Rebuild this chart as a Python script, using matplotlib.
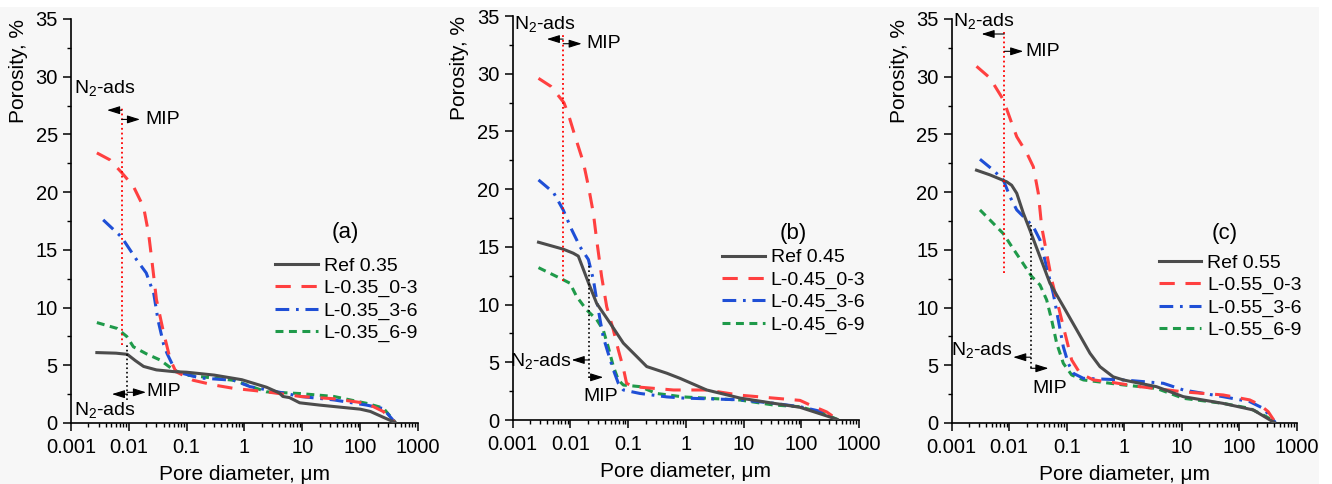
import matplotlib
matplotlib.use("Agg")
import matplotlib.pyplot as plt
from matplotlib.patches import Rectangle
from matplotlib.ticker import FixedLocator, MultipleLocator, LogLocator, NullFormatter

plt.rcParams['font.family'] = ['Liberation Sans', 'DejaVu Sans']
plt.rcParams['mathtext.default'] = 'regular'

# ---------------- data ----------------
x_ticks = [0.001, 0.01, 0.1, 1, 10, 100, 1000]
x_tick_labels = ["0.001", "0.01", "0.1", "1", "10", "100", "1000"]
y_ticks = [0, 5, 10, 15, 20, 25, 30, 35]

# Panel (a) w/c 0.35
a_ref_x = [0.0028, 0.006, 0.0094, 0.013, 0.018, 0.03, 0.06, 0.1, 0.3, 0.9, 2.4, 4.0, 4.6, 6.0, 9.0, 20, 100, 150, 250, 400]
a_ref_y = [6.1, 6.05, 5.95, 5.4, 4.9, 4.6, 4.45, 4.4, 4.15, 3.75, 3.1, 2.6, 2.3, 2.2, 1.75, 1.55, 1.2, 1.0, 0.5, 0.05]
a_03_x = [0.0028, 0.0047, 0.0075, 0.012, 0.018, 0.022, 0.025, 0.03, 0.04, 0.052, 0.065, 0.13, 0.29, 0.65, 2.4, 9.2, 35, 130, 250, 400]
a_03_y = [23.4, 22.8, 21.7, 20.5, 18.7, 16.4, 14.1, 10.7, 7.8, 5.5, 4.45, 3.7, 3.3, 3.0, 2.7, 2.3, 2.1, 1.7, 1.0, 0.05]
a_36_x = [0.0036, 0.0075, 0.0138, 0.02, 0.027, 0.032, 0.04, 0.046, 0.065, 0.17, 0.65, 1.25, 4.7, 9.2, 35, 130, 250, 400]
a_36_y = [17.6, 16.1, 14.1, 13.0, 11.2, 8.9, 6.8, 6.0, 4.45, 3.9, 3.7, 3.15, 2.6, 2.3, 2.0, 1.55, 1.25, 0.05]
a_69_x = [0.0028, 0.0062, 0.0092, 0.012, 0.02, 0.035, 0.059, 0.1, 0.65, 2.4, 9.2, 35, 130, 250, 400]
a_69_y = [8.7, 8.2, 7.5, 6.6, 6.0, 5.45, 4.6, 4.15, 3.7, 2.7, 2.55, 2.3, 1.7, 1.3, 0.1]

# Panel (b) w/c 0.45
b_ref_x = [0.0028, 0.0075, 0.0112, 0.0137, 0.0205, 0.0285, 0.0486, 0.0826, 0.141, 0.21, 0.47, 0.8, 2.3, 8.7, 33, 95, 240, 420]
b_ref_y = [15.4, 14.8, 14.45, 14.2, 11.9, 10.1, 8.4, 6.66, 5.5, 4.63, 4.05, 3.6, 2.6, 1.9, 1.45, 1.1, 0.45, 0.05]
b_03_x = [0.0028, 0.0046, 0.0077, 0.0092, 0.012, 0.0168, 0.0205, 0.025, 0.0285, 0.0348, 0.0426, 0.0555, 0.0676, 0.0826, 0.094, 0.123, 0.61, 2.3, 8.7, 33, 95, 142, 275, 420]
b_03_y = [29.6, 28.9, 27.5, 26.5, 24.6, 22.3, 20.25, 17.9, 15.6, 12.4, 9.8, 7.8, 6.07, 4.49, 3.18, 2.89, 2.6, 2.6, 2.15, 1.9, 1.7, 1.3, 0.7, 0.05]
b_36_x = [0.0028, 0.0051, 0.0075, 0.0105, 0.0147, 0.0205, 0.025, 0.0285, 0.0326, 0.037, 0.045, 0.0555, 0.0676, 0.0826, 0.16, 0.47, 0.9, 8.7, 33, 95, 240, 420]
b_36_y = [20.8, 19.7, 18.2, 16.5, 15.0, 13.9, 12.15, 10.4, 8.7, 7.2, 5.8, 4.34, 3.18, 2.6, 2.3, 2.0, 1.9, 1.75, 1.45, 1.15, 0.7, 0.05]
b_69_x = [0.0028, 0.0075, 0.0098, 0.0128, 0.019, 0.0285, 0.037, 0.045, 0.0555, 0.0676, 0.0826, 0.16, 0.31, 0.9, 8.7, 33, 95, 240, 420]
b_69_y = [13.2, 12.15, 11.85, 10.7, 9.55, 8.7, 7.8, 6.36, 4.63, 3.47, 3.03, 2.89, 2.3, 2.0, 1.73, 1.3, 1.15, 0.58, 0.05]

# Panel (c) w/c 0.55
c_ref_x = [0.0027, 0.0046, 0.009, 0.011, 0.0135, 0.0175, 0.0229, 0.0342, 0.051, 0.087, 0.149, 0.253, 0.377, 0.64, 0.96, 3.6, 10.6, 52, 174, 400]
c_ref_y = [21.9, 21.5, 20.9, 20.6, 19.9, 18.2, 16.7, 14.4, 12.1, 10.1, 8.06, 6.04, 4.88, 4.0, 3.73, 3.15, 2.28, 1.7, 1.13, 0.05]
c_03_x = [0.0027, 0.0046, 0.0079, 0.011, 0.0135, 0.0201, 0.0262, 0.032, 0.0366, 0.0447, 0.0547, 0.0713, 0.093, 0.1215, 0.17, 0.29, 0.49, 1.86, 10.6, 52, 151, 228, 316, 420]
c_03_y = [30.9, 29.9, 28.0, 26.0, 24.8, 23.4, 22.2, 19.9, 17.0, 14.7, 12.4, 10.1, 7.77, 5.46, 4.3, 3.73, 3.59, 3.15, 2.7, 2.43, 2.0, 1.56, 0.98, 0.05]
c_36_x = [0.0031, 0.0053, 0.0079, 0.0103, 0.0135, 0.0201, 0.0262, 0.0342, 0.0447, 0.0583, 0.0713, 0.087, 0.106, 0.13, 0.194, 0.96, 4.75, 10.6, 52, 151, 259, 420]
c_36_y = [22.85, 21.9, 21.05, 19.6, 18.46, 17.6, 17.0, 15.86, 13.5, 11.2, 8.9, 6.6, 5.17, 4.3, 3.87, 3.73, 3.44, 2.86, 2.28, 1.85, 1.27, 0.05]
c_69_x = [0.0031, 0.0046, 0.0079, 0.011, 0.0175, 0.0245, 0.0342, 0.0447, 0.0547, 0.0668, 0.087, 0.1215, 0.194, 0.96, 3.6, 10.6, 52, 151, 293, 420]
c_69_y = [18.46, 17.6, 16.4, 15.3, 13.8, 12.7, 11.96, 10.66, 8.9, 6.9, 5.17, 4.16, 3.73, 3.3, 3.0, 2.14, 1.7, 1.27, 0.55, 0.05]

series_labels = {
    'a': ["Ref 0.35", "L-0.35_0-3", "L-0.35_3-6", "L-0.35_6-9"],
    'b': ["Ref 0.45", "L-0.45_0-3", "L-0.45_3-6", "L-0.45_6-9"],
    'c': ["Ref 0.55", "L-0.55_0-3", "L-0.55_3-6", "L-0.55_6-9"],
}
panel_data = {
    'a': [(a_ref_x, a_ref_y), (a_03_x, a_03_y), (a_36_x, a_36_y), (a_69_x, a_69_y)],
    'b': [(b_ref_x, b_ref_y), (b_03_x, b_03_y), (b_36_x, b_36_y), (b_69_x, b_69_y)],
    'c': [(c_ref_x, c_ref_y), (c_03_x, c_03_y), (c_36_x, c_36_y), (c_69_x, c_69_y)],
}

# ---------------- styles ----------------
colors = ['#4c4c4c', '#ff4040', '#1f4fd6', '#1f9a4a']
styles = [dict(ls='-'), dict(dashes=(5.0, 3.5)), dict(dashes=(4.5, 2.2, 0.9, 2.2)), dict(dashes=(2.6, 1.8))]
LW = 2.2

W, H = 1332, 484
fig = plt.figure(figsize=(W / 100, H / 100), dpi=100, facecolor='white')
fig.patches.append(Rectangle((0, 0), 1319 / W, (H - 7) / H, transform=fig.transFigure,
                             facecolor='#f7f7f7', edgecolor='none', zorder=-10))

# axes boxes in pixels: left, top, right, bottom
boxes = {'a': (71, 19, 418, 423), 'b': (512.7, 16, 859, 420), 'c': (951.7, 19, 1297, 423)}

ann = {
    'a': dict(rx=0.0075, ry=(6.76, 27.4), rl=(27.1, 0.0042), rr=(26.3, 0.0156), rmip=(0.0195, 26.3),
              rn2=(0.00112, 29.0, 'left'),
              bx=0.0094, by=(2.0, 6.9), bl=(2.5, 0.0051), br=(2.66, 0.0198), bmip=(0.0203, 2.75),
              bn2=(0.00112, 1.1, 'left')),
    'b': dict(rx=0.0075, ry=(12.0, 33.5), rl=(33.0, 0.0039), rr=(32.6, 0.0157), rmip=(0.0186, 32.6),
              rn2=(0.00106, 34.3, 'left'),
              bx=0.0213, by=(3.6, 13.6), bl=(5.2, 0.0105), br=(3.7, 0.037), bmip=(0.0335, 2.0, 'center'),
              bn2=(0.0103, 5.1, 'right')),
    'c': dict(rx=0.0082, ry=(13.0, 33.9), rl=(33.7, 0.0033), rr=(32.2, 0.0175), rmip=(0.0193, 32.2),
              rn2=(0.00107, 34.8, 'left'),
              bx=0.0236, by=(4.74, 17.3), bl=(5.7, 0.0117), br=(4.74, 0.048), bmip=(0.051, 3.0, 'center'),
              bn2=(0.0115, 6.3, 'right')),
}
panel_letters = {'a': (55, 16.5), 'b': (72, 16.2), 'c': (56, 16.4)}
legend_anchor = {'a': (0.588, 0.410), 'b': (0.605, 0.424), 'c': (0.599, 0.418)}

FS_TICK = 14.5
FS_LAB = 15
FS_ANN = 14
FS_LEG = 14


def arrow(ax, x0, x1, y):
    ax.annotate('', xy=(x1, y), xytext=(x0, y),
                arrowprops=dict(arrowstyle='-|>,head_length=0.7,head_width=0.22', color='black',
                                lw=0.8, mutation_scale=11, shrinkA=0, shrinkB=0), zorder=6)


for key in ['a', 'b', 'c']:
    l, t, r, b = boxes[key]
    ax = fig.add_axes([l / W, (H - b) / H, (r - l) / W, (b - t) / H])
    ax.set_facecolor('none')
    ax.set_xscale('log')
    ax.set_xlim(0.001, 1000)
    ax.set_ylim(0, 35)
    for i, (xs, ys) in enumerate(panel_data[key]):
        ax.plot(xs, ys, color=colors[i], lw=LW, label=series_labels[key][i], **styles[i],
                zorder=3 + (3 - i) * 0.1)

    cfg = ann[key]
    ax.plot([cfg['rx'], cfg['rx']], cfg['ry'], color='red', ls=':', lw=1.3, zorder=5)
    arrow(ax, cfg['rx'], cfg['rl'][1], cfg['rl'][0])
    arrow(ax, cfg['rx'], cfg['rr'][1], cfg['rr'][0])
    ax.text(cfg['rmip'][0], cfg['rmip'][1], 'MIP', fontsize=FS_ANN, ha='left', va='center')
    ax.text(cfg['rn2'][0], cfg['rn2'][1], r'N$_2$-ads', fontsize=FS_ANN, ha=cfg['rn2'][2], va='center')
    ax.plot([cfg['bx'], cfg['bx']], cfg['by'], color='black', ls=':', lw=1.2, zorder=5)
    arrow(ax, cfg['bx'], cfg['bl'][1], cfg['bl'][0])
    arrow(ax, cfg['bx'], cfg['br'][1], cfg['br'][0])
    bm = cfg['bmip']
    ax.text(bm[0], bm[1], 'MIP', fontsize=FS_ANN, ha=(bm[2] if len(bm) > 2 else 'left'), va='center')
    ax.text(cfg['bn2'][0], cfg['bn2'][1], r'N$_2$-ads', fontsize=FS_ANN, ha=cfg['bn2'][2], va='center')

    px, py = panel_letters[key]
    ax.text(px, py, f'({key})', fontsize=16, ha='center', va='center')

    ax.legend(loc='upper left', bbox_to_anchor=legend_anchor[key], frameon=False,
              fontsize=FS_LEG, handlelength=2.2, handletextpad=0.3, labelspacing=0.24,
              borderpad=0, borderaxespad=0)

    ax.spines['top'].set_visible(False)
    ax.spines['right'].set_visible(False)
    for s in ['left', 'bottom']:
        ax.spines[s].set_linewidth(1.2)
    ax.xaxis.set_major_locator(FixedLocator(x_ticks))
    ax.set_xticklabels(x_tick_labels)
    ax.xaxis.set_minor_locator(LogLocator(base=10, subs=[2, 3, 4, 5, 6, 7, 8, 9], numticks=20))
    ax.xaxis.set_minor_formatter(NullFormatter())
    ax.yaxis.set_major_locator(FixedLocator(y_ticks))
    ax.yaxis.set_minor_locator(MultipleLocator(2.5))
    ax.tick_params(which='major', direction='out', length=5.5, width=1.1, labelsize=FS_TICK)
    ax.tick_params(axis='x', which='major', pad=5.5)
    ax.tick_params(axis='y', which='major', pad=4)
    ax.tick_params(which='minor', direction='out', length=3.2, width=1.0)
    ax.set_xlabel('Pore diameter, μm', fontsize=FS_LAB)
    ax.xaxis.set_label_coords(0.5, -0.105)
    ax.set_ylabel('Porosity, %', fontsize=FS_LAB, loc='top')
    ax.yaxis.set_label_coords(-0.125, 1.0)

fig.savefig('out.png', dpi=100, facecolor=fig.get_facecolor())
